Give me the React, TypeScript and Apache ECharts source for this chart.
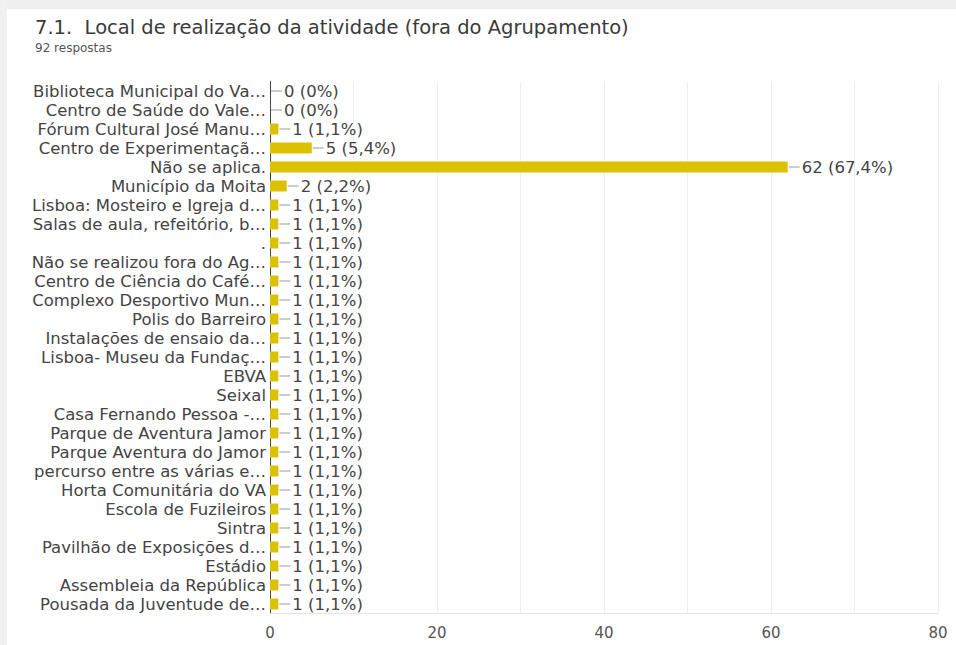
import React, { useEffect, useRef } from "react";
import * as echarts from "echarts";

const TITLE = "7.1.  Local de realização da atividade (fora do Agrupamento)";
const SUBTITLE = "92 respostas";
const TOTAL = 92;

const categories = [
  "Biblioteca Municipal do Va…",
  "Centro de Saúde do Vale…",
  "Fórum Cultural José Manu…",
  "Centro de Experimentaçã…",
  "Não se aplica.",
  "Município da Moita",
  "Lisboa: Mosteiro e Igreja d…",
  "Salas de aula, refeitório, b…",
  ".",
  "Não se realizou fora do Ag…",
  "Centro de Ciência do Café…",
  "Complexo Desportivo Mun…",
  "Polis do Barreiro",
  "Instalações de ensaio da…",
  "Lisboa- Museu da Fundaç…",
  "EBVA",
  "Seixal",
  "Casa Fernando Pessoa -…",
  "Parque de Aventura Jamor",
  "Parque Aventura do Jamor",
  "percurso entre as várias e…",
  "Horta Comunitária do VA",
  "Escola de Fuzileiros",
  "Sintra",
  "Pavilhão de Exposições d…",
  "Estádio",
  "Assembleia da República",
  "Pousada da Juventude de…",
];

const counts = [0, 0, 1, 5, 62, 2, 1, 1, 1, 1, 1, 1, 1, 1, 1, 1, 1, 1, 1, 1, 1, 1, 1, 1, 1, 1, 1, 1];

const xTicks = [0, 20, 40, 60, 80];

const FONT = "DejaVu Sans";

function pct(v: number): string {
  if (v === 0) return "0%";
  return (Math.round((v / TOTAL) * 1000) / 10).toFixed(1).replace(".", ",") + "%";
}

export default function App() {
  const ref = useRef<HTMLDivElement>(null);
  useEffect(() => {
    if (!ref.current) return;
    const chart = echarts.init(ref.current, null, { renderer: "svg" });
    chart.setOption({
      animation: false,
      backgroundColor: "#ffffff",
      graphic: [
        { type: "rect", shape: { x: 0, y: 0, width: 956, height: 9 }, style: { fill: "#efefef" }, silent: true },
        { type: "rect", shape: { x: 0, y: 0, width: 7, height: 645 }, style: { fill: "#f1f1f1" }, silent: true },
        {
          type: "text",
          x: 35,
          y: 27,
          style: { text: TITLE, fontSize: 19.5, fontFamily: FONT, fill: "#3a3a3a", verticalAlign: "middle" },
        },
        {
          type: "text",
          x: 35,
          y: 48,
          style: { text: SUBTITLE, fontSize: 12, fontFamily: FONT, fill: "#555", verticalAlign: "middle" },
        },
      ],
      grid: { left: 270, right: 18, top: 81.5, bottom: 31.5, containLabel: false },
      xAxis: {
        type: "value",
        min: 0,
        max: 80,
        interval: 10,
        axisLine: { show: true, lineStyle: { color: "#e4e4e4" } },
        axisTick: { show: false },
        splitLine: { show: true, lineStyle: { color: "#eeeeee", width: 1 } },
        axisLabel: {
          fontSize: 15,
          fontFamily: FONT,
          color: "#555",
          margin: 12,
          formatter: (v: number) => (xTicks.includes(v) ? String(v) : ""),
        },
      },
      yAxis: {
        type: "category",
        inverse: true,
        data: categories,
        axisLine: { show: true, lineStyle: { color: "#444", width: 1 } },
        axisTick: { show: false },
        axisLabel: { interval: 0, fontSize: 16.5, fontFamily: FONT, color: "#444", margin: 4 },
      },
      series: [
        {
          type: "bar",
          data: counts,
          barWidth: 11,
          itemStyle: { color: "#dbc100" },
          label: {
            show: true,
            position: "right",
            distance: 1,
            formatter: (p: any) => `{ln|}{t|${p.value} (${pct(p.value)})}`,
            rich: {
              ln: { width: 11, height: 1, backgroundColor: "#9a9a9a" },
              t: { fontSize: 16.5, fontFamily: FONT, color: "#444", padding: [0, 0, 0, 2] },
            },
          },
        },
      ],
    });
    return () => chart.dispose();
  }, []);
  return <div ref={ref} style={{ position: "fixed", left: 0, top: 0, width: 956, height: 645 }} />;
}
